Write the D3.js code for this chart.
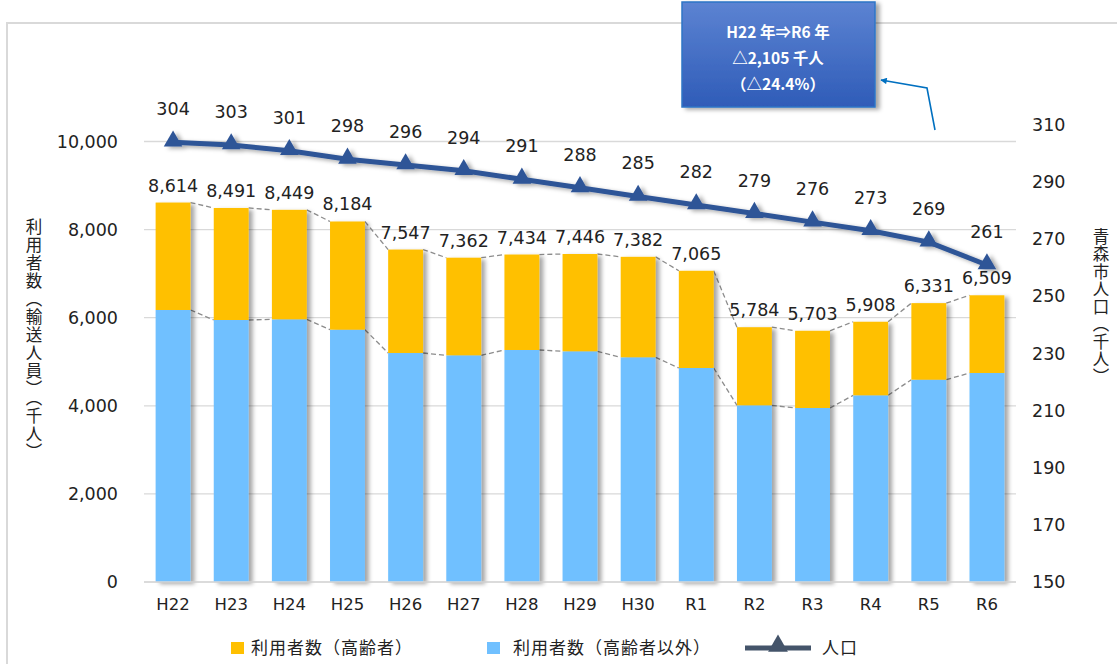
<!DOCTYPE html>
<html>
<head>
<meta charset="utf-8">
<script src="https://cdn.jsdelivr.net/npm/d3@7"></script>
<style>
  body { margin: 0; background: #fff; }
  text { font-family: "DejaVu Sans", Verdana, sans-serif; }
  .jp { font-family: "Noto Sans CJK JP", sans-serif; }
</style>
</head>
<body>
<div id="graph"></div>
<script>
// data
var years = ['H22', 'H23', 'H24', 'H25', 'H26', 'H27', 'H28', 'H29', 'H30', 'R1', 'R2', 'R3', 'R4', 'R5', 'R6'];
var usersOther = [6175, 5948, 5963, 5728, 5199, 5146, 5267, 5237, 5101, 4858, 4011, 3950, 4238, 4593, 4745];
var usersElderly = [2439, 2543, 2486, 2456, 2348, 2216, 2167, 2209, 2281, 2207, 1773, 1753, 1670, 1738, 1764];
var population = [304, 303, 301, 298, 296, 294, 291, 288, 285, 282, 279, 276, 273, 269, 261];
var leftTicks = [0, 2000, 4000, 6000, 8000, 10000];
var rightTicks = [150, 170, 190, 210, 230, 250, 270, 290, 310];
var seriesNames = ['利用者数（高齢者）', '利用者数（高齢者以外）', '人口'];
var calloutLines = ['H22 年⇒R6 年', '△2,105 千人', '（△24.4%）'];

var chart_width = 1117;
var chart_height = 664;

var svg = d3.select('#graph')
  .append('svg')
  .attr('width', chart_width)
  .attr('height', chart_height);

var defs = svg.append('defs');

var shadow = defs.append('filter').attr('id', 'shadow')
  .attr('x', '-20%').attr('y', '-20%').attr('width', '160%').attr('height', '160%');
shadow.append('feDropShadow')
  .attr('dx', 4).attr('dy', 2).attr('stdDeviation', 2)
  .attr('flood-color', '#000').attr('flood-opacity', 0.35);

var boxGrad = defs.append('linearGradient').attr('id', 'boxGrad')
  .attr('x1', 0).attr('y1', 0).attr('x2', 0).attr('y2', 1);
boxGrad.append('stop').attr('offset', '0%').attr('stop-color', '#5C83D2');
boxGrad.append('stop').attr('offset', '100%').attr('stop-color', '#2F5CB8');

defs.append('marker').attr('id', 'arrowHead')
  .attr('viewBox', '0 0 10 10').attr('refX', 9).attr('refY', 5)
  .attr('markerWidth', 5).attr('markerHeight', 4).attr('orient', 'auto')
  .append('path').attr('d', 'M0,0 L10,5 L0,10 z').attr('fill', '#0070C0');

// outer frame
svg.append('rect')
  .attr('x', 7).attr('y', 23)
  .attr('width', 1130).attr('height', 700)
  .attr('fill', 'none').attr('stroke', '#D9D9D9').attr('stroke-width', 2);

// scales
var x_scale = d3.scaleBand()
  .domain(years)
  .range([144, 1016])
  .paddingInner(0.4)
  .paddingOuter(0.2);

var y_scale = d3.scaleLinear()
  .domain([0, 10000])
  .range([582, 141.5]);

var y2_scale = d3.scaleLinear()
  .domain([150, 310])
  .range([582, 125]);

// gridlines
svg.append('g')
  .selectAll('line')
  .data(leftTicks)
  .enter()
  .append('line')
  .attr('x1', 144).attr('x2', 1016)
  .attr('y1', function(d) { return y_scale(d); })
  .attr('y2', function(d) { return y_scale(d); })
  .attr('stroke', '#D9D9D9')
  .attr('stroke-width', 1.3);

// axes
var y_axis = d3.axisLeft(y_scale)
  .tickValues(leftTicks)
  .tickFormat(d3.format(','))
  .tickSize(0)
  .tickPadding(0);

svg.append('g')
  .attr('transform', 'translate(118,0)')
  .call(y_axis)
  .call(function(g) { g.select('.domain').remove(); })
  .selectAll('text')
  .attr('font-size', 17.5)
  .attr('fill', '#222');

var y2_axis = d3.axisRight(y2_scale)
  .tickValues(rightTicks)
  .tickSize(0)
  .tickPadding(0);

svg.append('g')
  .attr('transform', 'translate(1032,0)')
  .call(y2_axis)
  .call(function(g) { g.select('.domain').remove(); })
  .selectAll('text')
  .attr('font-size', 17.5)
  .attr('fill', '#222');

var x_axis = d3.axisBottom(x_scale).tickSize(0).tickPadding(0);

svg.append('g')
  .attr('transform', 'translate(0,598)')
  .call(x_axis)
  .call(function(g) { g.select('.domain').remove(); })
  .selectAll('text')
  .attr('font-size', 16.5)
  .attr('fill', '#222')
  .attr('dy', '0.71em');

// axis titles (vertical)
svg.append('text')
  .attr('class', 'jp')
  .attr('x', 34).attr('y', 218)
  .style('writing-mode', 'vertical-rl')
  .style('letter-spacing', '1.5px')
  .attr('font-size', 16.5)
  .attr('fill', '#222')
  .text('利用者数（輸送人員）（千人）');

svg.append('text')
  .attr('class', 'jp')
  .attr('x', 1101).attr('y', 228)
  .style('writing-mode', 'vertical-rl')
  .style('letter-spacing', '1px')
  .attr('font-size', 16.5)
  .attr('fill', '#222')
  .text('青森市人口（千人）');

// stacked bars
var stackData = years.map(function(y, i) {
  return { year: y, other: usersOther[i], elderly: usersElderly[i], total: usersOther[i] + usersElderly[i] };
});

var bw = x_scale.bandwidth();

// series lines (dashed) between bars
var seriesLine = function(key) {
  var pts = [];
  stackData.forEach(function(d, i) {
    if (i > 0) pts.push([x_scale(d.year), y_scale(d[key])]);
    if (i < stackData.length - 1) pts.push([x_scale(d.year) + bw, y_scale(d[key])]);
  });
  var segs = [];
  for (var k = 0; k < pts.length; k += 2) segs.push([pts[k], pts[k + 1]]);
  return segs;
};

['other', 'total'].forEach(function(key) {
  svg.append('g')
    .selectAll('line')
    .data(seriesLine(key))
    .enter()
    .append('line')
    .attr('x1', function(d) { return d[0][0]; })
    .attr('y1', function(d) { return d[0][1]; })
    .attr('x2', function(d) { return d[1][0]; })
    .attr('y2', function(d) { return d[1][1]; })
    .attr('stroke', '#8C8C8C')
    .attr('stroke-width', 1.3)
    .attr('stroke-dasharray', '5,3');
});

var bars = svg.append('g').attr('filter', 'url(#shadow)');

bars.selectAll('.other')
  .data(stackData)
  .enter()
  .append('rect')
  .attr('class', 'other')
  .attr('x', function(d) { return x_scale(d.year); })
  .attr('y', function(d) { return y_scale(d.other); })
  .attr('width', bw)
  .attr('height', function(d) { return y_scale(0) - y_scale(d.other); })
  .attr('fill', '#70C0FF');

bars.selectAll('.elderly')
  .data(stackData)
  .enter()
  .append('rect')
  .attr('class', 'elderly')
  .attr('x', function(d) { return x_scale(d.year); })
  .attr('y', function(d) { return y_scale(d.total); })
  .attr('width', bw)
  .attr('height', function(d) { return y_scale(d.other) - y_scale(d.total); })
  .attr('fill', '#FFC000');

// zero axis line
svg.append('line')
  .attr('x1', 144).attr('x2', 1016)
  .attr('y1', y_scale(0)).attr('y2', y_scale(0))
  .attr('stroke', '#D9D9D9').attr('stroke-width', 1.5);

// total labels
svg.append('g')
  .selectAll('text')
  .data(stackData)
  .enter()
  .append('text')
  .attr('x', function(d) { return x_scale(d.year) + bw / 2; })
  .attr('y', function(d) { return y_scale(d.total) - 11; })
  .attr('text-anchor', 'middle')
  .attr('font-size', 17.5)
  .attr('fill', '#222')
  .text(function(d) { return d3.format(',')(d.total); });

// population line
var line = d3.line()
  .x(function(d, i) { return x_scale(years[i]) + bw / 2; })
  .y(function(d) { return y2_scale(d); });

var popG = svg.append('g').attr('filter', 'url(#shadow)');

popG.append('path')
  .datum(population)
  .attr('fill', 'none')
  .attr('stroke', '#2F5597')
  .attr('stroke-width', 5)
  .attr('d', line);

popG.selectAll('path.marker')
  .data(population)
  .enter()
  .append('path')
  .attr('class', 'marker')
  .attr('d', d3.symbol().type(d3.symbolTriangle).size(150))
  .attr('transform', function(d, i) {
    return 'translate(' + (x_scale(years[i]) + bw / 2) + ',' + (y2_scale(d) - 1) + ')';
  })
  .attr('fill', '#2F5597');

svg.append('g')
  .selectAll('text')
  .data(population)
  .enter()
  .append('text')
  .attr('x', function(d, i) { return x_scale(years[i]) + bw / 2; })
  .attr('y', function(d) { return y2_scale(d) - 27; })
  .attr('text-anchor', 'middle')
  .attr('font-size', 17.5)
  .attr('fill', '#222')
  .text(function(d) { return d; });

// callout box
svg.append('rect')
  .attr('x', 682).attr('y', 2)
  .attr('width', 193).attr('height', 105)
  .attr('fill', 'url(#boxGrad)')
  .attr('stroke', '#2E75C6')
  .attr('stroke-width', 1.5)
  .attr('filter', 'url(#shadow)');

svg.append('g')
  .selectAll('text')
  .data(calloutLines)
  .enter()
  .append('text')
  .attr('class', 'jp')
  .attr('x', 778)
  .attr('y', function(d, i) { return 38 + i * 26; })
  .attr('text-anchor', 'middle')
  .attr('font-size', 15.5)
  .attr('font-weight', 'bold')
  .attr('fill', '#fff')
  .text(function(d) { return d; });

svg.append('polyline')
  .attr('points', '935,130 927,88 881,80')
  .attr('fill', 'none')
  .attr('stroke', '#0070C0')
  .attr('stroke-width', 1.6)
  .attr('marker-end', 'url(#arrowHead)');

// legend
var legend = svg.append('g').attr('transform', 'translate(0,648)');

legend.append('rect').attr('x', 231).attr('y', -6).attr('width', 13).attr('height', 12).attr('fill', '#FFC000');
legend.append('rect').attr('x', 487).attr('y', -6).attr('width', 13).attr('height', 12).attr('fill', '#70C0FF');
legend.append('line').attr('x1', 745).attr('x2', 811).attr('y1', 0).attr('y2', 0)
  .attr('stroke', '#44546A').attr('stroke-width', 5);
legend.append('path')
  .attr('d', d3.symbol().type(d3.symbolTriangle).size(170))
  .attr('transform', 'translate(778,-2)')
  .attr('fill', '#44546A');

legend.selectAll('text.lg')
  .data(seriesNames)
  .enter()
  .append('text')
  .attr('class', 'jp')
  .attr('x', function(d, i) { return [251, 513, 822][i]; })
  .attr('y', 6)
  .attr('font-size', 17)
  .style('letter-spacing', '1px')
  .attr('fill', '#222')
  .text(function(d) { return d; });
</script>
</body>
</html>
